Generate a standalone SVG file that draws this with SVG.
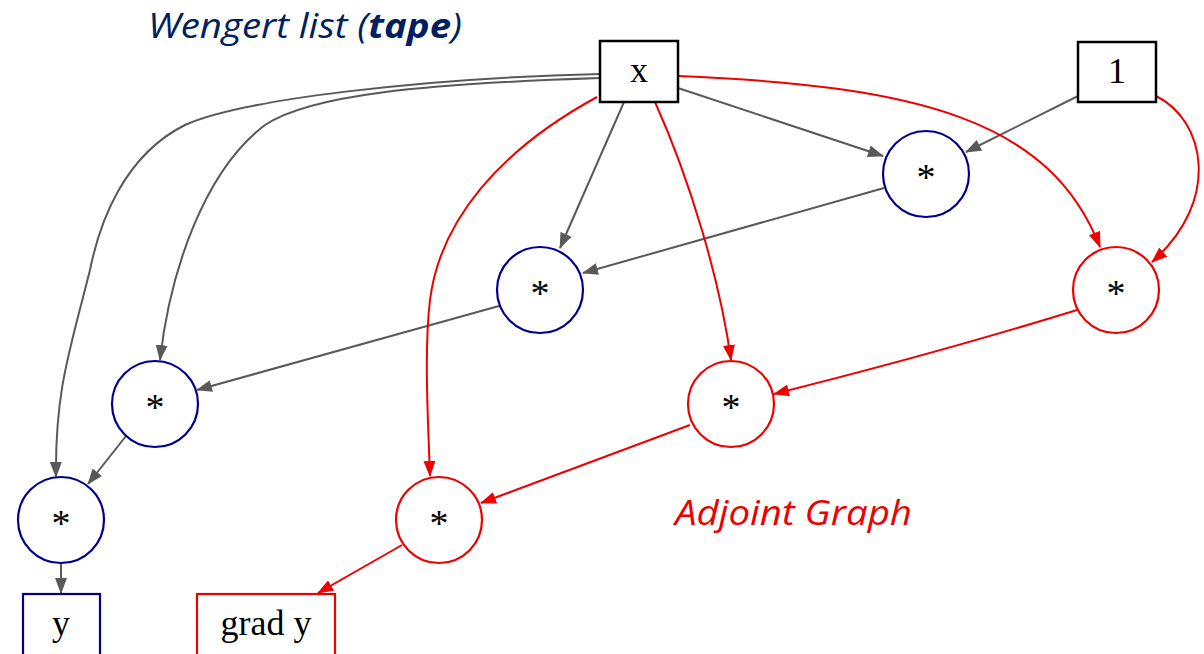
<svg xmlns="http://www.w3.org/2000/svg" width="1204" height="654" viewBox="0 0 1204 654">
  <style>
    .lbl { font-family: "Liberation Serif", "Times New Roman", serif; font-size: 36px; fill: #000; text-anchor: middle; dominant-baseline: central; }
    .star { font-family: "Liberation Serif", serif; font-size: 38px; fill: #000; text-anchor: middle; }
    .box { fill: #fff; stroke: #000; stroke-width: 2.5; }
    .bnode { fill: #fff; stroke: #000090; stroke-width: 2.2; }
    .rnode { fill: #fff; stroke: #ee0000; stroke-width: 2.2; }
    .ge { fill: none; stroke: #595959; stroke-width: 2; marker-end: url(#ag); }
    .re { fill: none; stroke: #ee0000; stroke-width: 2; marker-end: url(#ar); }
    .cap { font-family: "Open Sans", "Liberation Sans", sans-serif; font-style: italic; font-size: 34px; }
  </style>
  <defs>
    <marker id="ag" viewBox="0 0 16 12" refX="15" refY="6" markerWidth="16" markerHeight="12" markerUnits="userSpaceOnUse" orient="auto">
      <path d="M0,0 L16,6 L0,12 z" fill="#595959"/>
    </marker>
    <marker id="ar" viewBox="0 0 16 12" refX="15" refY="6" markerWidth="16" markerHeight="12" markerUnits="userSpaceOnUse" orient="auto">
      <path d="M0,0 L16,6 L0,12 z" fill="#ee0000"/>
    </marker>
  </defs>

  <!-- captions -->
  <text class="cap" x="148" y="38" fill="#002060" textLength="314" lengthAdjust="spacingAndGlyphs">Wengert list (<tspan font-weight="bold">tape</tspan>)</text>
  <text class="cap" x="675" y="525" fill="#ee0000" textLength="237" lengthAdjust="spacingAndGlyphs">Adjoint Graph</text>

  <!-- connectors -->
  <g id="edges">
    <!-- forward tape -->
    <path class="ge" d="M678,88 L883,156"/>
    <path class="ge" d="M1078,96 L966,152"/>
    <path class="ge" d="M624,102 L560,248"/>
    <path class="ge" d="M884,188 L583,273"/>
    <path class="ge" d="M600,78 C420,84 310,95 265,125 C205,170 170,270 160,360"/>
    <path class="ge" d="M499,306 L197,390"/>
    <path class="ge" d="M600,74 C420,78 240,100 185,125 C125,155 100,220 90,270 C70,350 55,390 56,477"/>
    <path class="ge" d="M126,436 L88,484"/>
    <path class="ge" d="M61,563 L61,593"/>
    <!-- adjoint -->
    <path class="re" d="M678,76 C920,86 1050,120 1100,247"/>
    <path class="re" d="M1156,96 C1205,120 1222,200 1152,262"/>
    <path class="re" d="M655,102 C690,180 720,280 731,360"/>
    <path class="re" d="M597,97 C500,150 440,220 430,300 C424,350 428,420 430,476"/>
    <path class="re" d="M1077,310 C980,340 870,370 774,394"/>
    <path class="re" d="M690,425 L481,503"/>
    <path class="re" d="M402,545 L318,593"/>
  </g>

  <g id="x"><rect class="box" x="600" y="41" width="78" height="61"/><text class="lbl" x="639" y="70">x</text></g>
  <g id="one"><rect class="box" x="1078" y="42" width="78" height="60"/><text class="lbl" x="1117" y="71">1</text></g>

  <g id="m1"><circle class="bnode" cx="926" cy="174" r="43"/><text class="star" x="926" y="190">*</text></g>
  <g id="m2"><circle class="bnode" cx="540" cy="290" r="43"/><text class="star" x="540" y="306">*</text></g>
  <g id="m3"><circle class="bnode" cx="155" cy="404" r="43"/><text class="star" x="155" y="420">*</text></g>
  <g id="m4"><circle class="bnode" cx="61" cy="520" r="43"/><text class="star" x="61" y="536">*</text></g>
  <g id="y"><rect x="23" y="594" width="77" height="62" fill="#fff" stroke="#000090" stroke-width="2.2"/><text class="lbl" x="61" y="623">y</text></g>

  <g id="a1"><circle class="rnode" cx="1116" cy="290" r="43"/><text class="star" x="1116" y="306">*</text></g>
  <g id="a2"><circle class="rnode" cx="731" cy="404" r="43"/><text class="star" x="731" y="420">*</text></g>
  <g id="a3"><circle class="rnode" cx="439" cy="520" r="43"/><text class="star" x="439" y="536">*</text></g>
  <g id="grad"><rect x="197" y="594" width="138" height="62" fill="#fff" stroke="#ee0000" stroke-width="2.2"/><text class="lbl" x="266" y="623">grad y</text></g>
</svg>
